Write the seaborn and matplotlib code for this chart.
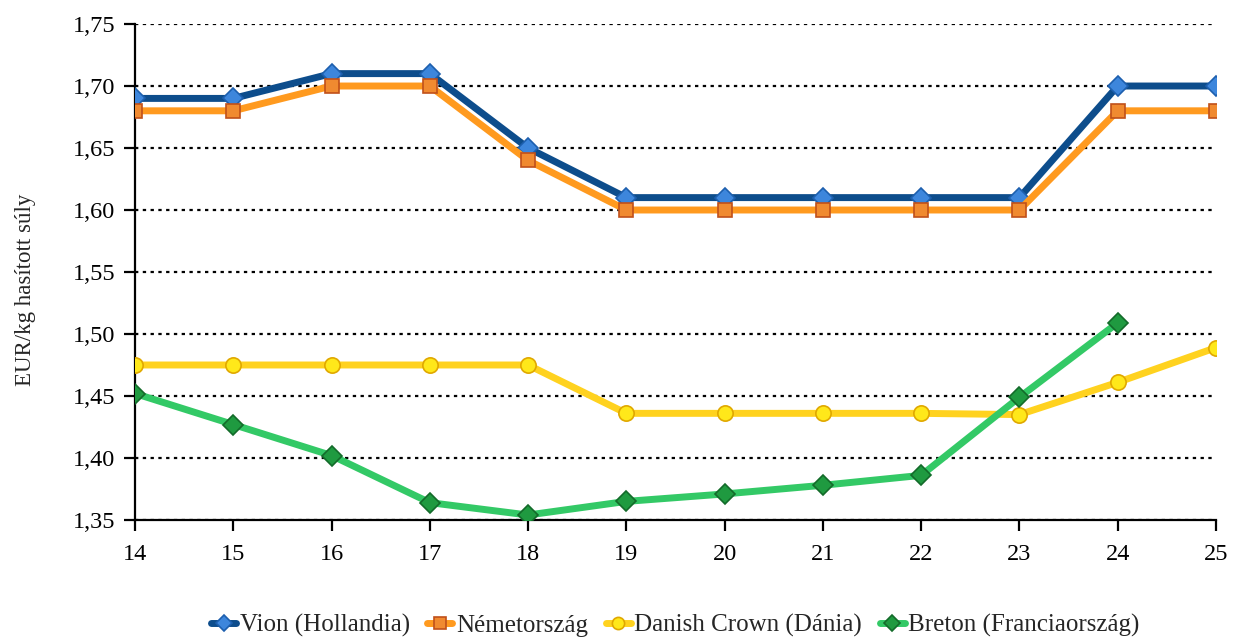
import numpy as np
import pandas as pd
import seaborn as sns
import matplotlib.pyplot as plt
from matplotlib.ticker import FuncFormatter

weeks = [14, 15, 16, 17, 18, 19, 20, 21, 22, 23, 24, 25]
vion = [1.69, 1.69, 1.71, 1.71, 1.65, 1.61, 1.61, 1.61, 1.61, 1.61, 1.70, 1.70]
nemet = [1.68, 1.68, 1.70, 1.70, 1.64, 1.60, 1.60, 1.60, 1.60, 1.60, 1.68, 1.68]
danish = [1.475, 1.475, 1.475, 1.475, 1.475, 1.436, 1.436, 1.436, 1.436, 1.435, 1.461, 1.489]
breton = [1.452, 1.427, 1.402, 1.364, 1.354, 1.365, 1.371, 1.378, 1.386, 1.449, 1.509, np.nan]

names = ["Vion (Hollandia)", "Németország", "Danish Crown (Dánia)", "Breton (Franciaország)"]

df = pd.DataFrame({"het": weeks, names[0]: vion, names[1]: nemet,
                   names[2]: danish, names[3]: breton})
long = df.melt(id_vars="het", var_name="sorozat", value_name="ar").dropna()

# line colour, marker, marker face, marker edge, marker size
styles = {
    names[0]: ("#0d4d8c", "D", "#3d86dc", "#1d5fae", 10),
    names[1]: ("#ff9a1f", "s", "#f08a30", "#c0501a", 10),
    names[2]: ("#ffd21f", "o", "#ffe81a", "#e0a800", 11),
    names[3]: ("#33c966", "D", "#1f9a40", "#136b2a", 10),
}

sns.set_style("white")
plt.rcParams["font.family"] = ["Liberation Serif", "DejaVu Serif"]

fig = plt.figure(figsize=(12.33, 6.37), dpi=100)
ax = fig.add_axes([0.1095, 0.1837, 0.8767, 0.7786])

for name in names:
    lc, mk, mf, me, ms = styles[name]
    sns.lineplot(data=long[long["sorozat"] == name], x="het", y="ar", ax=ax,
                 color=lc, linewidth=5, marker=mk, markersize=ms,
                 markerfacecolor=mf, markeredgecolor=me, markeredgewidth=1.2,
                 estimator=None, label=name, zorder=3)

ax.set_xlim(14, 25)
ax.set_ylim(1.35, 1.75)
ax.set_xticks(weeks)
ax.set_yticks(np.arange(1.35, 1.7501, 0.05))
ax.yaxis.set_major_formatter(FuncFormatter(lambda v, p: f"{v:.2f}".replace(".", ",")))
ax.yaxis.grid(True, color="black", linestyle=(0, (1.5, 2)), linewidth=1.6)
ax.set_axisbelow(True)

for s in ["top", "right"]:
    ax.spines[s].set_visible(False)
for s in ["left", "bottom"]:
    ax.spines[s].set_color("black")
    ax.spines[s].set_linewidth(1.6)

ax.tick_params(axis="both", direction="out", length=8, width=1.6, colors="black",
               labelsize=17.5, left=True, bottom=True)
ax.tick_params(axis="y", pad=6)
ax.tick_params(axis="x", pad=9)
ax.set_xlabel("")
ax.set_ylabel("EUR/kg hasított súly", fontsize=16.5)
ax.yaxis.set_label_coords(-0.092, 0.464)

ax.legend(loc="upper center", bbox_to_anchor=(0.5, -0.145), ncol=4, frameon=False,
          fontsize=18, handlelength=1.0, handletextpad=0.15, columnspacing=0.7,
          markerscale=0.8)

fig.savefig("out.png", dpi=100)
